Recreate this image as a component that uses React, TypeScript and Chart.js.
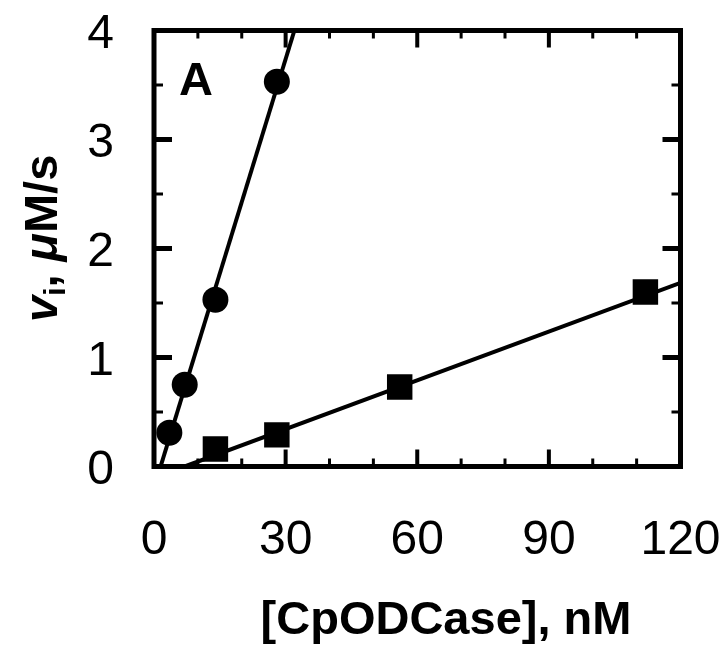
import React, { useEffect, useRef } from "react";
import { Chart, registerables } from "chart.js";

Chart.register(...registerables);

// ---- data ----
const circleX = [3.5, 7, 14, 28];
const circleY = [0.31, 0.75, 1.53, 3.53];
const squareX = [14, 28, 56, 112];
const squareY = [0.16, 0.29, 0.73, 1.6];
const circleFitX = [1.5, 32];
const circleFitY = [0, 4];
const squareFitX = [7, 120];
const squareFitY = [0, 1.685];
const xTickValues = [0, 30, 60, 90, 120];
const yTickValues = [0, 1, 2, 3, 4];
const xMinorValues = [0, 10, 20, 30, 40, 50, 60, 70, 80, 90, 100, 110, 120];
const yMinorValues = [0, 0.5, 1, 1.5, 2, 2.5, 3, 3.5, 4];
const xTitle = "[CpODCase], nM";
const panelLabel = "A";

const FONT = "'Liberation Sans', Arial, sans-serif";
const W = 728;
const H = 652;

const toPoints = (xs: number[], ys: number[]) => xs.map((x, i) => ({ x, y: ys[i] }));

const framePlugin = {
  id: "frameTicks",
  afterDatasetsDraw(chart: any) {
    const { ctx, chartArea } = chart;
    const xs = chart.scales.x;
    const ys = chart.scales.y;
    const { left, right, top, bottom } = chartArea;
    ctx.save();
    ctx.strokeStyle = "#000";
    ctx.fillStyle = "#000";
    ctx.lineCap = "butt";
    // ticks
    xMinorValues.forEach((v) => {
      const major = xTickValues.includes(v);
      const len = major ? 17 : 8;
      ctx.lineWidth = major ? 4 : 3;
      const px = xs.getPixelForValue(v);
      ctx.beginPath();
      ctx.moveTo(px, bottom);
      ctx.lineTo(px, bottom - len);
      ctx.moveTo(px, top);
      ctx.lineTo(px, top + len);
      ctx.stroke();
    });
    yMinorValues.forEach((v) => {
      const major = yTickValues.includes(v);
      const len = major ? 18 : 9;
      ctx.lineWidth = major ? 5 : 3;
      const py = ys.getPixelForValue(v);
      ctx.beginPath();
      ctx.moveTo(left, py);
      ctx.lineTo(left + len, py);
      ctx.moveTo(right, py);
      ctx.lineTo(right - len, py);
      ctx.stroke();
    });
    // frame
    ctx.lineWidth = 5;
    ctx.strokeRect(left, top, right - left, bottom - top);

    // tick labels
    ctx.font = `48px ${FONT}`;
    ctx.textBaseline = "alphabetic";
    ctx.textAlign = "center";
    xTickValues.forEach((v) => {
      ctx.fillText(String(v), xs.getPixelForValue(v), bottom + 87.5);
    });
    ctx.textAlign = "right";
    yTickValues.forEach((v) => {
      ctx.fillText(String(v), left - 40, ys.getPixelForValue(v) + 17);
    });

    // panel label
    ctx.font = `bold 47px ${FONT}`;
    ctx.textAlign = "left";
    ctx.fillText(panelLabel, left + 25, top + 64);

    // x title
    ctx.textAlign = "center";
    ctx.fillText(xTitle, 446, 634);

    // y title (rotated, mixed styles)
    ctx.translate(57, 322);
    ctx.rotate(-Math.PI / 2);
    ctx.textAlign = "left";
    let x = 0;
    const seg = (t: string, font: string, dy = 0) => {
      ctx.font = font;
      ctx.fillText(t, x, dy);
      x += ctx.measureText(t).width;
    };
    seg("v", `italic bold 47px ${FONT}`);
    seg("i", `bold 30px ${FONT}`, 8);
    seg(", ", `bold 47px ${FONT}`);
    seg("\u03bc", `italic bold 47px ${FONT}`);
    seg("M/s", `bold 47px ${FONT}`);
    ctx.restore();
  },
};

export default function App() {
  const ref = useRef<HTMLCanvasElement | null>(null);
  useEffect(() => {
    if (!ref.current) return;
    const chart = new Chart(ref.current, {
      type: "scatter",
      data: {
        datasets: [
          {
            data: toPoints(circleX, circleY),
            pointStyle: "circle",
            pointRadius: 13,
            backgroundColor: "#000",
            borderColor: "#000",
            borderWidth: 0,
            showLine: false,
          },
          {
            data: toPoints(squareX, squareY),
            pointStyle: "rect",
            pointRadius: 18,
            backgroundColor: "#000",
            borderColor: "#000",
            borderWidth: 0,
            showLine: false,
          },
          {
            data: toPoints(circleFitX, circleFitY),
            showLine: true,
            pointRadius: 0,
            borderColor: "#000",
            borderWidth: 4,
          },
          {
            data: toPoints(squareFitX, squareFitY),
            showLine: true,
            pointRadius: 0,
            borderColor: "#000",
            borderWidth: 4,
          },
        ],
      },
      options: {
        responsive: false,
        animation: false,
        events: [],
        layout: { padding: { top: 30.5, right: 47.5, left: 154, bottom: 185.5 } },
        plugins: { legend: { display: false }, tooltip: { enabled: false } },
        scales: {
          x: { type: "linear", min: 0, max: 120, display: false },
          y: { type: "linear", min: 0, max: 4, display: false },
        },
      },
      plugins: [framePlugin],
    });
    return () => chart.destroy();
  }, []);
  return (
    <div style={{ position: "fixed", left: 0, top: 0, width: W, height: H, background: "#fff" }}>
      <canvas ref={ref} width={W} height={H} style={{ display: "block" }} />
    </div>
  );
}
